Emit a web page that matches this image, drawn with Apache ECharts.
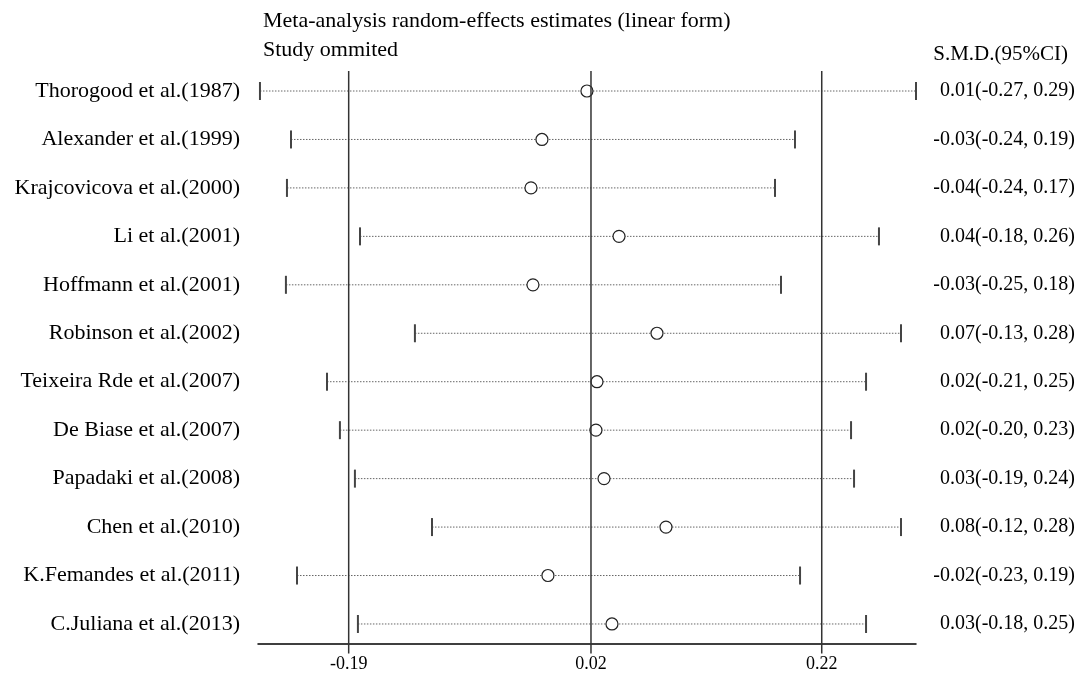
<!DOCTYPE html>
<html>
<head>
<meta charset="utf-8">
<script src="https://cdn.jsdelivr.net/npm/echarts@6/dist/echarts.min.js"></script>
<style>html,body{margin:0;padding:0;background:#fff;}#c{width:1078px;height:678px;}</style>
</head>
<body>
<div id="c"></div>
<script>
const studies = ["Thorogood et al.(1987)","Alexander et al.(1999)","Krajcovicova et al.(2000)","Li et al.(2001)","Hoffmann et al.(2001)","Robinson et al.(2002)","Teixeira Rde et al.(2007)","De Biase et al.(2007)","Papadaki et al.(2008)","Chen et al.(2010)","K.Femandes et al.(2011)","C.Juliana et al.(2013)"];
const estimate = [0.0165,-0.0225,-0.032,0.0443,-0.0303,0.0772,0.0252,0.0243,0.0313,0.085,-0.0173,0.0382];
const lower = [-0.2669,-0.240,-0.2435,-0.1802,-0.2444,-0.1326,-0.2088,-0.1976,-0.1846,-0.1178,-0.2348,-0.182];
const upper = [0.3017,0.1968,0.1795,0.2696,0.1847,0.2887,0.2584,0.2454,0.248,0.2887,0.2012,0.2584];
const ciLabels = ["0.01(-0.27, 0.29)","-0.03(-0.24, 0.19)","-0.04(-0.24, 0.17)","0.04(-0.18, 0.26)","-0.03(-0.25, 0.18)","0.07(-0.13, 0.28)","0.02(-0.21, 0.25)","0.02(-0.20, 0.23)","0.03(-0.19, 0.24)","0.08(-0.12, 0.28)","-0.02(-0.23, 0.19)","0.03(-0.18, 0.25)"];
const refValues = [-0.19, 0.02, 0.22];
const xMin = -0.2686, xMax = 0.3017;
const yMin = -0.413, yMax = 11.403;

const FONT = "Liberation Serif";
const rows = studies.map((s, i) => [lower[i], estimate[i], upper[i], i]);

const chart = echarts.init(document.getElementById('c'));
chart.setOption({
  animation: false,
  backgroundColor: '#fff',
  title: [
    {text: 'Meta-analysis random-effects estimates (linear form)', left: 258, top: 5,
     textStyle: {fontFamily: FONT, fontSize: 22, fontWeight: 'normal', color: '#000'}},
    {text: 'Study ommited', left: 258, top: 34,
     textStyle: {fontFamily: FONT, fontSize: 22, fontWeight: 'normal', color: '#000'}},
    {text: 'S.M.D.(95%CI)', right: 5, top: 39,
     textStyle: {fontFamily: FONT, fontSize: 21, fontWeight: 'normal', color: '#000'}}
  ],
  grid: {left: 258, right: 162, top: 71, bottom: 34.5, containLabel: false},
  xAxis: {
    type: 'value', min: xMin, max: xMax,
    splitLine: {show: false},
    axisLine: {show: true, onZero: false, lineStyle: {color: '#000', width: 1.5}},
    axisTick: {show: false},
    axisLabel: {customValues: refValues, margin: 12, color: '#000', fontFamily: FONT, fontSize: 18,
      formatter: v => v.toFixed(2)}
  },
  yAxis: {
    type: 'value', min: yMin, max: yMax, inverse: true, show: false
  },
  series: [
    {
      type: 'custom',
      data: rows,
      clip: false,
      renderItem: function (params, api) {
        const lo = api.coord([api.value(0), api.value(3)]);
        const pt = api.coord([api.value(1), api.value(3)]);
        const hi = api.coord([api.value(2), api.value(3)]);
        const i = api.value(3);
        const y = lo[1];
        return {
          type: 'group',
          children: [
            {type: 'line', shape: {x1: lo[0], y1: y, x2: hi[0], y2: y},
             style: {stroke: '#666', lineWidth: 1, lineDash: [1.5, 1.5]}},
            {type: 'line', shape: {x1: lo[0], y1: y - 9, x2: lo[0], y2: y + 9},
             style: {stroke: '#444', lineWidth: 2}},
            {type: 'line', shape: {x1: hi[0], y1: y - 9, x2: hi[0], y2: y + 9},
             style: {stroke: '#444', lineWidth: 2}},
            {type: 'circle', shape: {cx: pt[0], cy: y, r: 6},
             style: {fill: '#fff', stroke: '#222', lineWidth: 1.2}},
            {type: 'text', x: 240, y: y,
             style: {text: studies[i], align: 'right', verticalAlign: 'middle',
                     fontFamily: FONT, fontSize: 22, fill: '#000'}},
            {type: 'text', x: 1075, y: y,
             style: {text: ciLabels[i], align: 'right', verticalAlign: 'middle',
                     fontFamily: FONT, fontSize: 20, fill: '#000'}}
          ]
        };
      },
      z: 2
    },
    {
      type: 'custom',
      data: refValues.map(v => [v]),
      clip: false,
      renderItem: function (params, api) {
        const top = api.coord([api.value(0), yMin]);
        const bot = api.coord([api.value(0), yMax]);
        return {type: 'line', shape: {x1: top[0], y1: top[1], x2: bot[0], y2: bot[1] + 10},
                style: {stroke: '#333', lineWidth: 1.5}};
      },
      z: 3
    }
  ]
});
</script>
</body>
</html>
